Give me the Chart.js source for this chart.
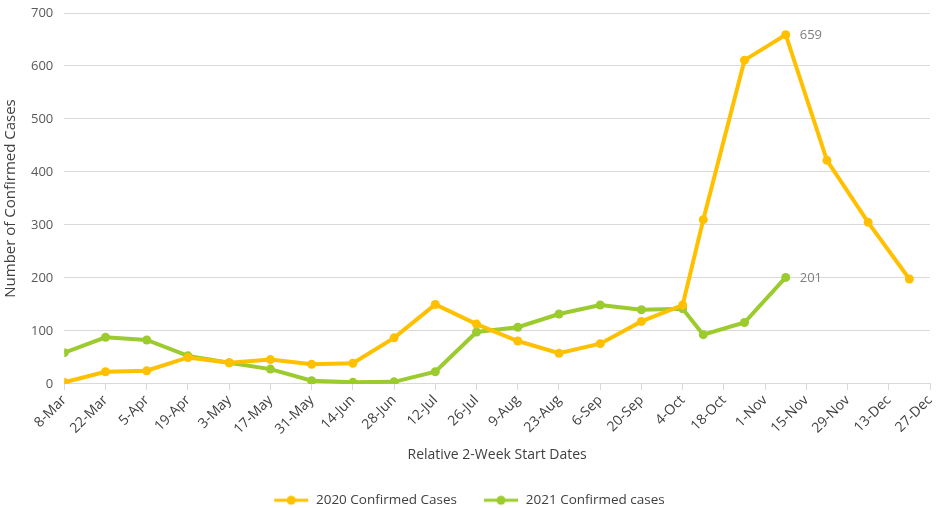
<!DOCTYPE html>
<html>
<head>
<meta charset="utf-8">
<script src="https://cdn.jsdelivr.net/npm/chart.js@4"></script>
<style>
    body { margin: 0; background: #fff; }
    #wrap { width: 936px; height: 508px; }
</style>
</head>
<body>
<div id="wrap"><canvas id="casesChart"></canvas></div>
<script>
// tick labels on the x axis, one every 14 days from 8-Mar
const tickLabels = ['8-Mar', '22-Mar', '5-Apr', '19-Apr', '3-May', '17-May', '31-May', '14-Jun',
    '28-Jun', '12-Jul', '26-Jul', '9-Aug', '23-Aug', '6-Sep', '20-Sep', '4-Oct', '18-Oct',
    '1-Nov', '15-Nov', '29-Nov', '13-Dec', '27-Dec'];

// days after 8-Mar for each data point (after 4-Oct the points fall a week off the ticks)
const pointDays = [0, 14, 28, 42, 56, 70, 84, 98, 112, 126, 140, 154, 168, 182, 196, 210,
    217, 231, 245, 259, 273, 287];

const cases2020 = [3, 23, 25, 50, 40, 46, 37, 39, 87, 150, 113, 81, 58, 76, 118, 149,
    310, 611, 659, 422, 305, 198];
const cases2021 = [59, 88, 83, 53, 40, 28, 6, 3, 4, 23, 98, 107, 132, 149, 140, 142,
    93, 116, 201];

const yTicks = [0, 100, 200, 300, 400, 500, 600, 700];

const orange = '#FFC000';
const green = '#9BCB2D';
const font = "'Open Sans', sans-serif";

function toPoints(values) {
    return values.map((v, i) => ({x: pointDays[i], y: v}));
}

function legendIcon(color) {
    const c = document.createElement('canvas');
    c.width = 36;
    c.height = 12;
    const ctx = c.getContext('2d');
    ctx.strokeStyle = color;
    ctx.lineWidth = 3;
    ctx.beginPath();
    ctx.moveTo(1, 6);
    ctx.lineTo(35, 6);
    ctx.stroke();
    ctx.fillStyle = color;
    ctx.beginPath();
    ctx.arc(18, 6, 4.5, 0, Math.PI * 2);
    ctx.fill();
    return c;
}

// labels next to the last point of each series ("659", "201")
const pointLabels = {
    id: 'pointLabels',
    afterDatasetsDraw(chart) {
        const ctx = chart.ctx;
        ctx.save();
        ctx.font = "13px " + font;
        ctx.fillStyle = '#7f7f7f';
        ctx.textBaseline = 'middle';
        chart.data.datasets.forEach((ds, di) => {
            if (ds.labelIndex === undefined) return;
            const pt = chart.getDatasetMeta(di).data[ds.labelIndex];
            ctx.fillText(String(ds.data[ds.labelIndex].y), pt.x + 14, pt.y + 1);
        });
        ctx.restore();
    }
};

new Chart(document.getElementById('casesChart'), {
    type: 'line',
    data: {
        datasets: [{
            label: '2020 Confirmed Cases',
            data: toPoints(cases2020),
            borderColor: orange,
            backgroundColor: orange,
            borderWidth: 4,
            pointRadius: 4.5,
            pointBorderWidth: 0,
            tension: 0,
            labelIndex: 18,
            legendIcon: legendIcon(orange),
        }, {
            label: '2021 Confirmed cases',
            data: toPoints(cases2021),
            borderColor: green,
            backgroundColor: green,
            borderWidth: 4,
            pointRadius: 4.5,
            pointBorderWidth: 0,
            tension: 0,
            labelIndex: 18,
            legendIcon: legendIcon(green),
        }]
    },
    options: {
        responsive: true,
        maintainAspectRatio: false,
        animation: false,
        layout: {
            padding: {top: 13, right: 0, left: 2, bottom: -9}
        },
        plugins: {
            tooltip: {enabled: false},
            legend: {
                position: 'bottom',
                labels: {
                    usePointStyle: true,
                    pointStyleWidth: 36,
                    padding: 26,
                    color: '#404040',
                    font: {family: font, size: 13.5},
                    generateLabels(chart) {
                        return chart.data.datasets.map((ds, i) => ({
                            text: ds.label,
                            pointStyle: ds.legendIcon,
                            fillStyle: ds.borderColor,
                            strokeStyle: ds.borderColor,
                            lineWidth: 0,
                            fontColor: '#404040',
                            datasetIndex: i,
                        }));
                    }
                }
            }
        },
        scales: {
            x: {
                type: 'linear',
                min: 0,
                max: (tickLabels.length - 1) * 14,
                afterBuildTicks(scale) {
                    scale.ticks = tickLabels.map((_, i) => ({value: i * 14}));
                },
                afterFit(scale) {
                    scale.paddingRight = 6;
                },
                grid: {
                    drawOnChartArea: false,
                    tickLength: 6,
                    color: '#d9d9d9',
                },
                border: {color: '#d9d9d9', width: 1},
                ticks: {
                    autoSkip: false,
                    minRotation: 45,
                    maxRotation: 45,
                    padding: 2,
                    color: '#404040',
                    font: {family: font, size: 14},
                    callback: (value) => tickLabels[Math.round(value / 14)],
                },
                title: {
                    display: true,
                    text: 'Relative 2-Week Start Dates',
                    color: '#404040',
                    font: {family: font, size: 14},
                    padding: {top: 7, bottom: 4},
                }
            },
            y: {
                min: 0,
                max: 700,
                afterBuildTicks(scale) {
                    scale.ticks = yTicks.map(v => ({value: v}));
                },
                afterFit(scale) {
                    scale.paddingTop = 8;
                    scale.paddingBottom = 8;
                },
                grid: {
                    color: '#d9d9d9',
                    drawTicks: false,
                },
                border: {display: false},
                ticks: {
                    padding: 11,
                    color: '#595959',
                    font: {family: font, size: 13},
                },
                title: {
                    display: true,
                    text: 'Number of Confirmed Cases',
                    color: '#404040',
                    font: {family: font, size: 15},
                    padding: {top: 0, bottom: 0},
                }
            }
        }
    },
    plugins: [pointLabels]
});
</script>
</body>
</html>
